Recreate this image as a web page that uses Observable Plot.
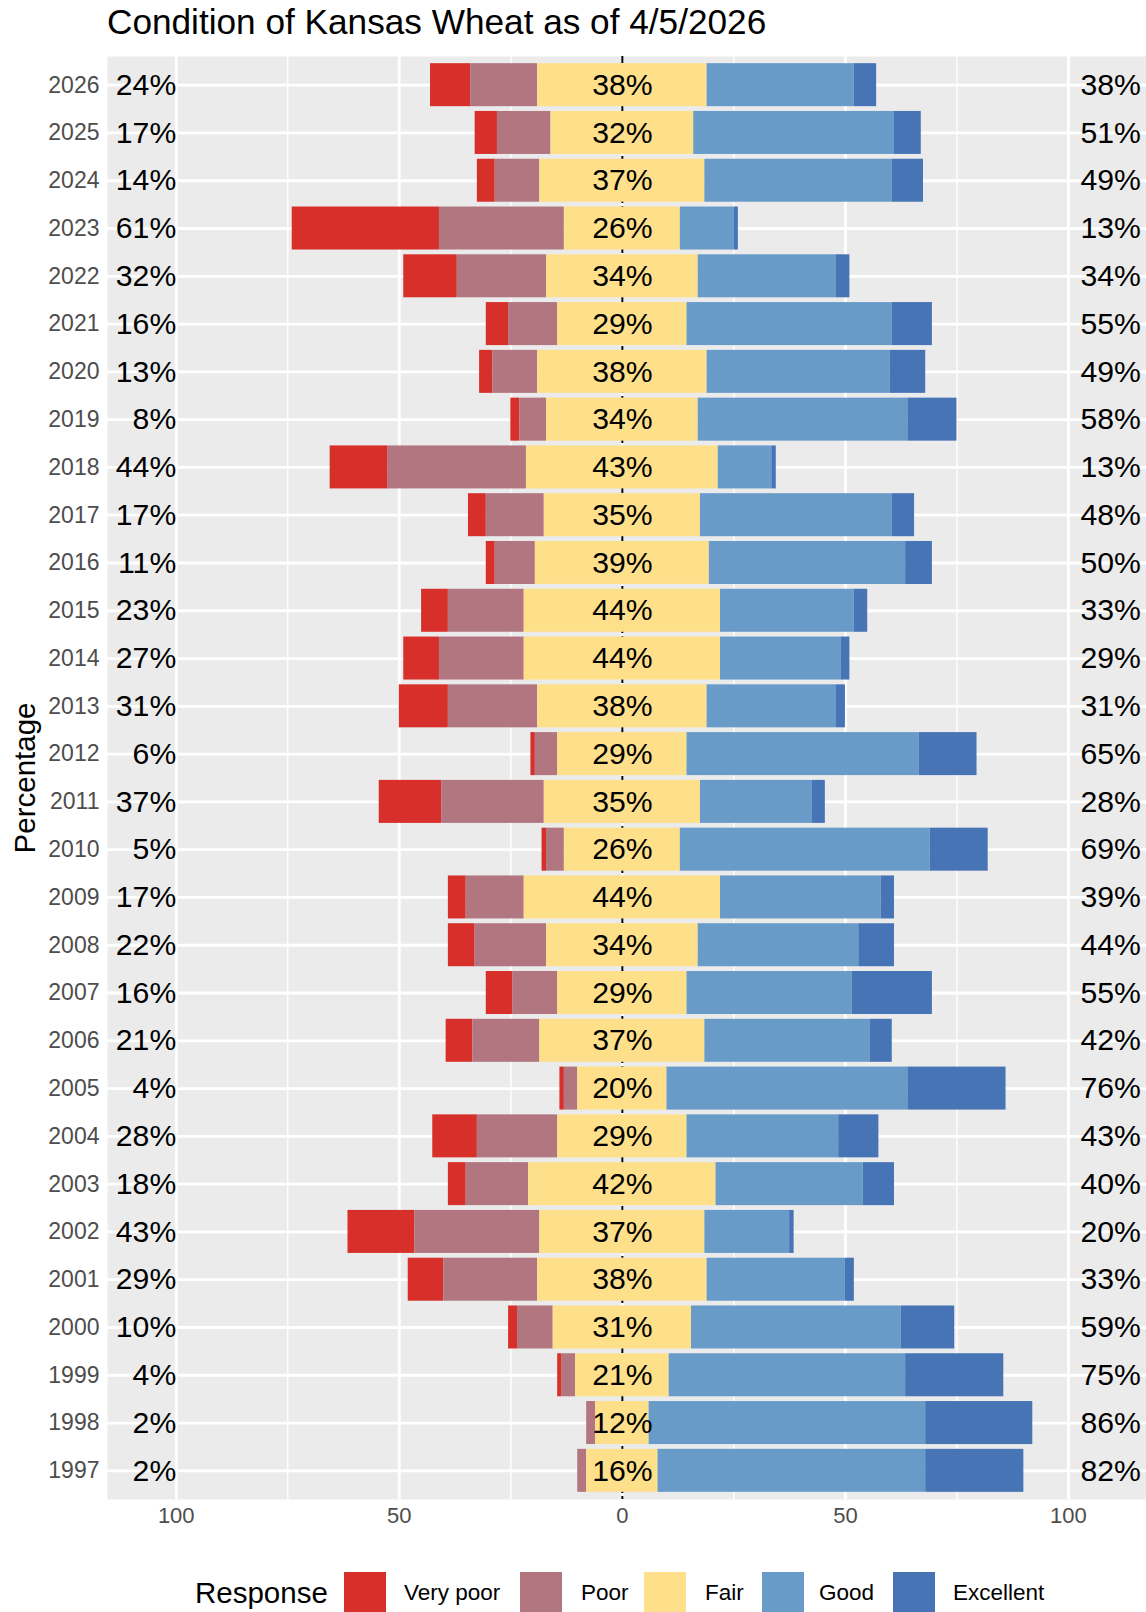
<!DOCTYPE html>
<html>
<head>
<meta charset="utf-8">
<script src="https://cdn.jsdelivr.net/npm/d3@7"></script>
<script src="https://cdn.jsdelivr.net/npm/@observablehq/plot@0.6"></script>
<style>
  html, body { margin: 0; padding: 0; background: white; }
  body { width: 1146px; height: 1612px; overflow: hidden; font-family: "Liberation Sans", Arial, Helvetica, sans-serif; }
  #title { height: 44px; line-height: 44px; font-size: 35.2px; padding-left: 107px; color: #000; white-space: nowrap; }
  #legend { position: relative; width: 1146px; height: 82px; }
  #legend .t { position: absolute; top: 43px; height: 40px; line-height: 40px; white-space: nowrap; color: #000; }
  #legend .k { position: absolute; top: 42px; width: 42px; height: 42px; }
</style>
</head>
<body>
<div id="title">Condition of Kansas Wheat as of 4/5/2026</div>
<div id="chart"></div>
<div id="legend"></div>
<script>
const years = [2026, 2025, 2024, 2023, 2022, 2021, 2020, 2019, 2018, 2017, 2016, 2015, 2014, 2013, 2012, 2011, 2010, 2009, 2008, 2007, 2006, 2005, 2004, 2003, 2002, 2001, 2000, 1999, 1998, 1997];
const veryPoor  = [ 9,  5,  4, 33, 12,  5,  3,  2, 13,  4,  2,  6,  8, 11,  1, 14,  1,  4,  6,  6,  6,  1, 10,  4, 15,  8,  2,  1,  0,  0];
const poor      = [15, 12, 10, 28, 20, 11, 10,  6, 31, 13,  9, 17, 19, 20,  5, 23,  4, 13, 16, 10, 15,  3, 18, 14, 28, 21,  8,  3,  2,  2];
const fair      = [38, 32, 37, 26, 34, 29, 38, 34, 43, 35, 39, 44, 44, 38, 29, 35, 26, 44, 34, 29, 37, 20, 29, 42, 37, 38, 31, 21, 12, 16];
const good      = [33, 45, 42, 12, 31, 46, 41, 47, 12, 43, 44, 30, 27, 29, 52, 25, 56, 36, 36, 37, 37, 54, 34, 33, 19, 31, 47, 53, 62, 60];
const excellent = [ 5,  6,  7,  1,  3,  9,  8, 11,  1,  5,  6,  3,  2,  2, 13,  3, 13,  3,  8, 18,  5, 22,  9,  7,  1,  2, 12, 22, 24, 22];
const responses = ["Very poor", "Poor", "Fair", "Good", "Excellent"];
const colors = ["#D7302A", "#B17680", "#FEDF8A", "#699BC9", "#4674B5"];
const xTicks = [-100, -50, 0, 50, 100];
const xMinor = [-75, -25, 25, 75];

const yearLabels = years.map(String);
const rows = [];
const labels = [];
years.forEach((yr, i) => {
  const h = fair[i] / 2;
  const segs = [
    [-h - poor[i] - veryPoor[i], -h - poor[i]],
    [-h - poor[i], -h],
    [-h, h],
    [h, h + good[i]],
    [h + good[i], h + good[i] + excellent[i]]
  ];
  segs.forEach((s, j) => rows.push({year: String(yr), response: responses[j], x1: s[0], x2: s[1]}));
  labels.push({
    year: String(yr),
    left: (veryPoor[i] + poor[i]) + "%",
    mid: fair[i] + "%",
    right: (good[i] + excellent[i]) + "%"
  });
});

const font = "'Liberation Sans', Arial, Helvetica, sans-serif";
const chart = Plot.plot({
  width: 1146,
  height: 1486,
  marginLeft: 107,
  marginRight: 0,
  marginTop: 12,
  marginBottom: 31,
  style: {fontFamily: font, background: "white", overflow: "visible"},
  x: {domain: [-115.41, 117.49]},
  y: {type: "band", domain: yearLabels, paddingInner: 0.1, paddingOuter: 0.15, round: false},
  color: {domain: responses, range: colors},
  marks: [
    Plot.frame({fill: "#EBEBEB", stroke: "none"}),
    Plot.ruleX(xMinor, {stroke: "white", strokeWidth: 1.4}),
    Plot.ruleX(xTicks, {stroke: "white", strokeWidth: 2.8}),
    Plot.gridY({stroke: "white", strokeOpacity: 1, strokeWidth: 2.8}),
    Plot.ruleX([0], {stroke: "black", strokeWidth: 2, strokeDasharray: "7,3"}),
    Plot.axisX({ticks: xTicks, tickFormat: d => Math.abs(d), tickSize: 0, tickPadding: 8, fontSize: 22, color: "#4D4D4D", label: null}),
    Plot.axisY({tickSize: 0, tickPadding: 8, fontSize: 23, color: "#4D4D4D", label: null}),
    Plot.barX(rows, {x1: "x1", x2: "x2", y: "year", fill: "response"}),
    Plot.text(labels, {x: 0, y: "year", text: "mid", fontSize: 30.2, fill: "black"}),
    Plot.text(labels, {x: -100, y: "year", text: "left", fontSize: 30.2, fill: "black", textAnchor: "end"}),
    Plot.text(labels, {x: 102.7, y: "year", text: "right", fontSize: 30.2, fill: "black", textAnchor: "start"}),
    Plot.text(["Percentage"], {text: d => d, frameAnchor: "left", dx: -82, rotate: -90, textAnchor: "middle", lineAnchor: "middle", fontSize: 29.5, fill: "black"})
  ]
});
document.getElementById("chart").appendChild(chart);

// legend
const legend = document.getElementById("legend");
function addText(txt, left, size) {
  const d = document.createElement("div");
  d.className = "t";
  d.style.left = left + "px";
  d.style.fontSize = size + "px";
  d.textContent = txt;
  legend.appendChild(d);
}
addText("Response", 195, 29.5);
const keyLefts = [344, 520, 644, 762, 893];
const textLefts = [404, 581, 705, 819, 953];
responses.forEach((r, i) => {
  const k = document.createElement("div");
  k.className = "k";
  k.style.left = keyLefts[i] + "px";
  k.style.background = colors[i];
  legend.appendChild(k);
  addText(r, textLefts[i], 22.5);
});
</script>
</body>
</html>
